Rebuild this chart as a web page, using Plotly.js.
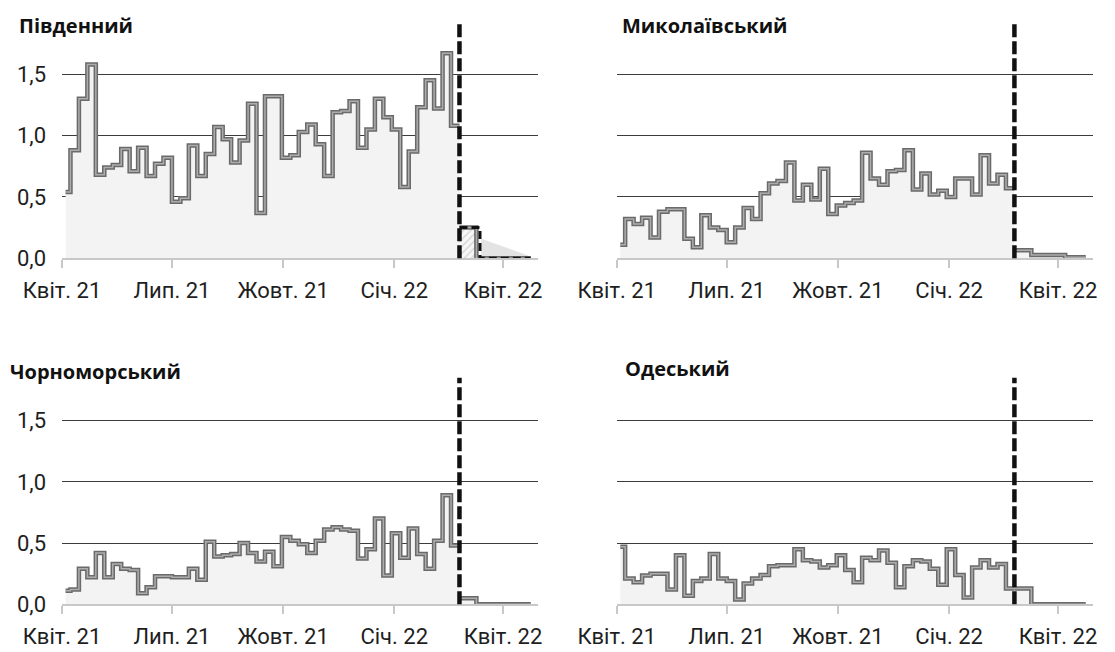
<!DOCTYPE html>
<html><head><meta charset="utf-8">
<script src="https://cdn.plot.ly/plotly-3.0.1.min.js"></script>
<style>html,body{margin:0;padding:0;background:#fff}#chart{width:1115px;height:652px}</style>
</head><body><div id="chart"></div>
<script>
// ---- data ----
const panelTitles = ['Південний', 'Миколаївський', 'Чорноморський', 'Одеський'];
const tickVals = ['2021-04-01', '2021-07-01', '2021-10-01', '2022-01-01', '2022-04-01'];
const tickText = ['Квіт. 21', 'Лип. 21', 'Жовт. 21', 'Січ. 22', 'Квіт. 22'];
const weekStart = '2021-04-01';   // first weekly bucket
const dataStart = '2021-04-04';   // first observation
const invasionDate = '2022-02-24';
const dataEnd = '2022-04-24';
const axisEnd = '2022-04-30';

const pivdennyiBefore = [0.54, 0.88, 1.30, 1.58, 0.68, 0.74, 0.76, 0.89, 0.71, 0.90,
  0.67, 0.77, 0.82, 0.46, 0.49, 0.92, 0.67, 0.85, 1.07, 0.97,
  0.78, 0.96, 1.26, 0.37, 1.32, 1.32, 0.82, 0.84, 1.03, 1.09,
  0.93, 0.67, 1.19, 1.20, 1.28, 0.90, 1.05, 1.30, 1.15, 1.05,
  0.58, 0.87, 1.23, 1.45, 1.22, 1.67, 1.08];
const pivdennyiAfter = [0.25, 0.25, 0, 0, 0, 0, 0, 0];
const pivdennyiOutlookX = ['2022-02-24', '2022-03-13', '2022-04-24'];
const pivdennyiOutlookY = [0.25, 0, 0];
const pivdennyiWedgeX = ['2022-03-14', '2022-04-24', '2022-04-24', '2022-03-14'];
const pivdennyiWedgeY = [0.16, 0.015, 0, 0];

const mykolaivBefore = [0.11, 0.32, 0.28, 0.33, 0.17, 0.38, 0.40, 0.40, 0.16, 0.09,
  0.35, 0.25, 0.23, 0.13, 0.25, 0.41, 0.32, 0.53, 0.61, 0.63,
  0.78, 0.47, 0.60, 0.48, 0.73, 0.36, 0.43, 0.45, 0.47, 0.86,
  0.65, 0.60, 0.71, 0.72, 0.88, 0.56, 0.69, 0.52, 0.55, 0.50,
  0.65, 0.65, 0.52, 0.84, 0.61, 0.68, 0.57];
const mykolaivAfter = [0.065, 0.065, 0.027, 0.027, 0.027, 0.027, 0.008, 0.008];

const chornomorskBefore = [0.11, 0.12, 0.29, 0.22, 0.42, 0.22, 0.33, 0.29, 0.28, 0.09,
  0.14, 0.23, 0.23, 0.22, 0.22, 0.29, 0.20, 0.51, 0.39, 0.40,
  0.41, 0.50, 0.42, 0.35, 0.43, 0.31, 0.55, 0.52, 0.49, 0.42,
  0.52, 0.61, 0.63, 0.61, 0.60, 0.375, 0.45, 0.70, 0.235, 0.58,
  0.38, 0.62, 0.41, 0.29, 0.52, 0.89, 0.48];
const chornomorskAfter = [0.05, 0.05, 0, 0, 0, 0, 0, 0];

const odesaBefore = [0.47, 0.21, 0.18, 0.235, 0.25, 0.25, 0.12, 0.40, 0.07, 0.19,
  0.21, 0.41, 0.21, 0.19, 0.04, 0.17, 0.21, 0.24, 0.31, 0.32,
  0.32, 0.45, 0.36, 0.35, 0.30, 0.32, 0.40, 0.28, 0.18, 0.38,
  0.36, 0.44, 0.34, 0.14, 0.31, 0.36, 0.35, 0.29, 0.16, 0.45,
  0.24, 0.055, 0.30, 0.36, 0.30, 0.33, 0.13];
const odesaAfter = [0.13, 0.13, 0, 0, 0, 0, 0, 0];

const seriesBefore = [pivdennyiBefore, mykolaivBefore, chornomorskBefore, odesaBefore];
const seriesAfter = [pivdennyiAfter, mykolaivAfter, chornomorskAfter, odesaAfter];

// ---- helpers ----
function addDays(iso, n) {
  const d = new Date(iso + 'T00:00:00Z');
  d.setUTCDate(d.getUTCDate() + n);
  return d.toISOString().slice(0, 10);
}
function weekly(start, n) { const a = []; for (let i = 0; i < n; i++) a.push(addDays(start, 7 * i)); return a; }

// ---- layout geometry ----
const W = 1115, H = 652;
const xDom = [[62 / W, 538 / W], [616.7 / W, 1093 / W], [62 / W, 538 / W], [616.7 / W, 1093 / W]];
const yDom = [[1 - 258.3 / H, 1 - 24 / H], [1 - 258.3 / H, 1 - 24 / H], [1 - 604.3 / H, 1 - 377.7 / H], [1 - 604.3 / H, 1 - 377.7 / H]];
const yTop = [1.909, 1.909, 1.851, 1.851];
const titlePos = [[17, 26], [620, 26], [8, 371], [623, 368]];

const OUT = '#6a6a6a', IN = '#adadad', FILL = '#f3f3f3';
const FONT = 'Roboto, "Noto Sans", sans-serif';

const traces = [];
const shapes = [];
const annotations = [];
const layout = {
  width: W, height: H, margin: {l: 0, r: 0, t: 0, b: 0},
  paper_bgcolor: '#fff', plot_bgcolor: 'rgba(0,0,0,0)',
  showlegend: false, separators: ', ',
  font: {family: FONT, color: '#222'}
};

for (let p = 0; p < 4; p++) {
  const sx = p === 0 ? '' : String(p + 1);
  const xa = 'x' + sx, ya = 'y' + sx;
  const before = seriesBefore[p], after = seriesAfter[p];
  const bx = weekly(weekStart, before.length); bx[0] = dataStart; bx.push(invasionDate);
  const by = before.concat([before[before.length - 1]]);
  const ax = weekly(invasionDate, after.length); ax.push(dataEnd);
  const ay = after.concat([after[after.length - 1]]);

  if (p === 0) {
    traces.push({x: pivdennyiWedgeX, y: pivdennyiWedgeY, xaxis: xa, yaxis: ya, type: 'scatter', mode: 'lines',
      fill: 'toself', fillcolor: '#e3e3e3', line: {width: 0}, hoverinfo: 'skip'});
  }
  traces.push({x: bx, y: by, xaxis: xa, yaxis: ya, type: 'scatter', mode: 'lines',
    line: {color: OUT, width: 4.5, shape: 'hv'}, fill: 'tozeroy', fillcolor: FILL, hoverinfo: 'skip'});
  traces.push({x: bx, y: by, xaxis: xa, yaxis: ya, type: 'scatter', mode: 'lines',
    line: {color: IN, width: 1.5, shape: 'hv'}, hoverinfo: 'skip'});
  const postFill = {x: ax, y: ay, xaxis: xa, yaxis: ya, type: 'scatter', mode: 'lines',
    line: {color: OUT, width: 4.5, shape: 'hv'}, fill: 'tozeroy', fillcolor: FILL, hoverinfo: 'skip'};
  if (p === 0) postFill.fillpattern = {shape: '/', fgcolor: '#d2d2d2', bgcolor: '#f7f7f7', size: 5, solidity: 0.25};
  traces.push(postFill);
  traces.push({x: ax, y: ay, xaxis: xa, yaxis: ya, type: 'scatter', mode: 'lines',
    line: {color: IN, width: 1.5, shape: 'hv'}, hoverinfo: 'skip'});
  if (p === 0) {
    traces.push({x: pivdennyiOutlookX, y: pivdennyiOutlookY, xaxis: xa, yaxis: ya, type: 'scatter', mode: 'lines',
      line: {color: '#111', width: 3, shape: 'hv', dash: '8px,4px'}, hoverinfo: 'skip'});
  }

  layout['xaxis' + sx] = {
    domain: xDom[p], anchor: ya, type: 'date', range: [weekStart, axisEnd],
    tickmode: 'array', tickvals: tickVals, ticktext: tickText,
    ticks: 'outside', ticklen: 8, tickwidth: 2, tickcolor: '#c8c8c8',
    showline: true, linecolor: '#c8c8c8', linewidth: 2,
    showgrid: false, zeroline: false, fixedrange: true,
    tickfont: {family: FONT, size: 22, color: '#1e1e1e'}, ticklabelstandoff: 3
  };
  layout['yaxis' + sx] = {
    domain: yDom[p], anchor: xa, range: [0, yTop[p]],
    tickmode: 'array', tickvals: [0, 0.5, 1, 1.5], tickformat: '.1f',
    showgrid: true, gridcolor: '#3c3c3c', gridwidth: 1, zeroline: false, showline: false,
    ticks: '', showticklabels: (p % 2 === 0), ticklabelstandoff: 15, fixedrange: true,
    tickfont: {family: FONT, size: 22, color: '#1e1e1e'}
  };

  shapes.push({type: 'line', xref: xa, yref: ya + ' domain', x0: invasionDate, x1: invasionDate, y0: 0, y1: 1,
    line: {color: '#111', width: 4.5, dash: '13px,4px'}, layer: 'above'});

  annotations.push({text: '<b>' + panelTitles[p] + '</b>', xref: 'paper', yref: 'paper',
    x: titlePos[p][0] / W, y: 1 - titlePos[p][1] / H, xanchor: 'left', yanchor: 'middle', showarrow: false,
    font: {family: '"Open Sans", Roboto, sans-serif', size: 20, color: '#111'}});
}
layout.shapes = shapes;
layout.annotations = annotations;

Plotly.newPlot('chart', traces, layout, {staticPlot: true, displayModeBar: false});
</script>
</body></html>
